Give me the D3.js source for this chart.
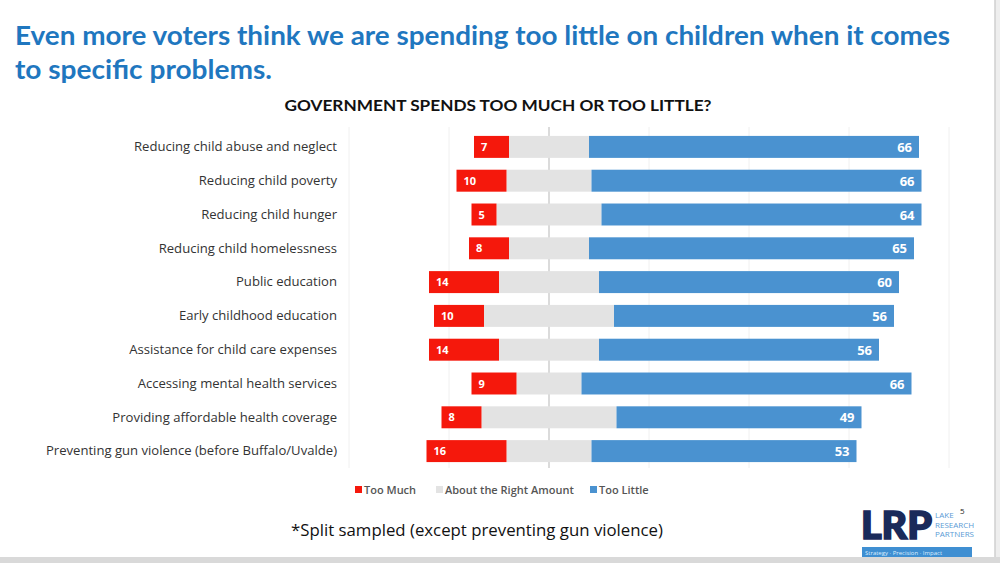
<!DOCTYPE html>
<html><head><meta charset="utf-8">
<script src="https://cdn.jsdelivr.net/npm/d3@7"></script>
<style>
html,body{margin:0;padding:0;background:#fff;}
svg{display:block;font-family:"Open Sans",sans-serif;}
</style></head>
<body>
<svg id="c" width="1000" height="563"></svg>
<script>
const categories = [
  "Reducing child abuse and neglect",
  "Reducing child poverty",
  "Reducing child hunger",
  "Reducing child homelessness",
  "Public education",
  "Early childhood education",
  "Assistance for child care expenses",
  "Accessing mental health services",
  "Providing affordable health coverage",
  "Preventing gun violence (before Buffalo/Uvalde)"
];
const tooMuch   = [7, 10, 5, 8, 14, 10, 14, 9, 8, 16];
const aboutRight = [16, 17, 21, 16, 20, 26, 20, 13, 27, 17];
const tooLittle = [66, 66, 64, 65, 60, 56, 56, 66, 49, 53];
const gridTicks = [-40, -20, 0, 20, 40, 60, 80];
const seriesNames = ["Too Much", "About the Right Amount", "Too Little"];
const colors = ["#f5180c", "#e3e3e3", "#4a92d0"];

const svg = d3.select("#c");

// slide edges
svg.append("rect").attr("x",995).attr("y",0).attr("width",5).attr("height",563).attr("fill","#eeeeee");
svg.append("line").attr("x1",995).attr("x2",995).attr("y1",0).attr("y2",563).attr("stroke","#cfcfcf").attr("stroke-width",1.5);
svg.append("rect").attr("x",0).attr("y",557).attr("width",1000).attr("height",6).attr("fill","#d9d9d9");

// titles
svg.append("text").attr("x",15).attr("y",45).attr("fill","#1f77bf")
  .attr("font-family","Lato, sans-serif").attr("font-weight",700).attr("font-size",27)
  .attr("textLength",935).attr("lengthAdjust","spacingAndGlyphs")
  .text("Even more voters think we are spending too little on children when it comes");
svg.append("text").attr("x",15).attr("y",79).attr("fill","#1f77bf")
  .attr("font-family","Lato, sans-serif").attr("font-weight",700).attr("font-size",27)
  .attr("textLength",257).attr("lengthAdjust","spacingAndGlyphs")
  .text("to specific problems.");
svg.append("text").attr("x",498).attr("y",111).attr("text-anchor","middle").attr("fill","#111")
  .attr("font-family","Lato, sans-serif").attr("font-weight",700).attr("font-size",16)
  .attr("textLength",427).attr("lengthAdjust","spacingAndGlyphs")
  .text("GOVERNMENT SPENDS TOO MUCH OR TOO LITTLE?");

const x = d3.scaleLinear().domain([-40, 80]).range([349, 949]);
const y = d3.scaleBand().domain(categories).range([130, 468]).paddingInner(0.35).paddingOuter(0.175);

// grid
svg.append("g").selectAll("line").data(gridTicks).join("line")
  .attr("x1",d=>x(d)).attr("x2",d=>x(d)).attr("y1",127).attr("y2",468)
  .attr("stroke",d=>d===0?"#cfcfcf":"#f0f0f0").attr("stroke-width",d=>d===0?1.5:1);

const rows = categories.map((c,i)=>({c, tm:tooMuch[i], ar:aboutRight[i], tl:tooLittle[i]}));

const g = svg.append("g");
g.selectAll(".ar").data(rows).join("rect").attr("class","ar")
  .attr("x",d=>x(-d.ar/2)).attr("width",d=>x(d.ar/2)-x(-d.ar/2))
  .attr("y",d=>y(d.c)).attr("height",y.bandwidth()).attr("fill",colors[1]);
g.selectAll(".tm").data(rows).join("rect").attr("class","tm")
  .attr("x",d=>x(-d.ar/2-d.tm)).attr("width",d=>x(-d.ar/2)-x(-d.ar/2-d.tm))
  .attr("y",d=>y(d.c)).attr("height",y.bandwidth()).attr("fill",colors[0]);
g.selectAll(".tl").data(rows).join("rect").attr("class","tl")
  .attr("x",d=>x(d.ar/2)).attr("width",d=>x(d.ar/2+d.tl)-x(d.ar/2))
  .attr("y",d=>y(d.c)).attr("height",y.bandwidth()).attr("fill",colors[2]);

g.selectAll(".ltm").data(rows).join("text")
  .attr("x",d=>x(-d.ar/2-d.tm)+7).attr("y",d=>y(d.c)+y.bandwidth()/2+4)
  .attr("fill","#fff").attr("font-weight",700).attr("font-size",11).text(d=>d.tm);
g.selectAll(".ltl").data(rows).join("text")
  .attr("x",d=>x(d.ar/2+d.tl)-7).attr("y",d=>y(d.c)+y.bandwidth()/2+5)
  .attr("text-anchor","end").attr("fill","#fff").attr("font-weight",700).attr("font-size",13).text(d=>d.tl);

// category axis
const ax = svg.append("g").attr("transform","translate(337,0)")
  .call(d3.axisLeft(y).tickSize(0).tickPadding(0));
ax.select(".domain").remove();
ax.selectAll("text").attr("font-family","Open Sans, sans-serif").attr("font-size",13.1).attr("fill","#333");

// legend
const legX = [355, 436, 590];
const leg = svg.append("g").selectAll("g").data(seriesNames).join("g")
  .attr("transform",(d,i)=>`translate(${legX[i]},490)`);
leg.append("rect").attr("x",0).attr("y",-4).attr("width",7).attr("height",7).attr("fill",(d,i)=>colors[i]);
leg.append("text").attr("x",9).attr("y",4).attr("font-size",11).attr("font-weight",600).attr("fill","#555").text(d=>d);

// footnote
svg.append("text").attr("x",477).attr("y",536).attr("text-anchor","middle")
  .attr("font-size",16.5).attr("fill","#111").attr("textLength",372).attr("lengthAdjust","spacingAndGlyphs")
  .text("*Split sampled (except preventing gun violence)");

// logo
svg.append("text").attr("x",861).attr("y",539).attr("font-family","Lato, sans-serif").attr("font-weight",900)
  .attr("font-size",37).attr("fill","#1a2a5a").attr("stroke","#1a2a5a").attr("stroke-width",1.6)
  .attr("textLength",71).attr("lengthAdjust","spacingAndGlyphs").text("LRP");
["LAKE","RESEARCH","PARTNERS"].forEach((t,i)=>{
  svg.append("text").attr("x",935).attr("y",518+i*9.5).attr("font-size",8).attr("fill","#5b9bd5").text(t);
});
svg.append("text").attr("x",960).attr("y",514).attr("font-size",8).attr("fill","#222").text("5");
svg.append("rect").attr("x",862).attr("y",547).attr("width",110).attr("height",10).attr("fill","#3f8fd2");
svg.append("text").attr("x",865).attr("y",554.5).attr("font-size",6).attr("fill","#dceeff").text("Strategy · Precision · Impact");
</script>
</body></html>
